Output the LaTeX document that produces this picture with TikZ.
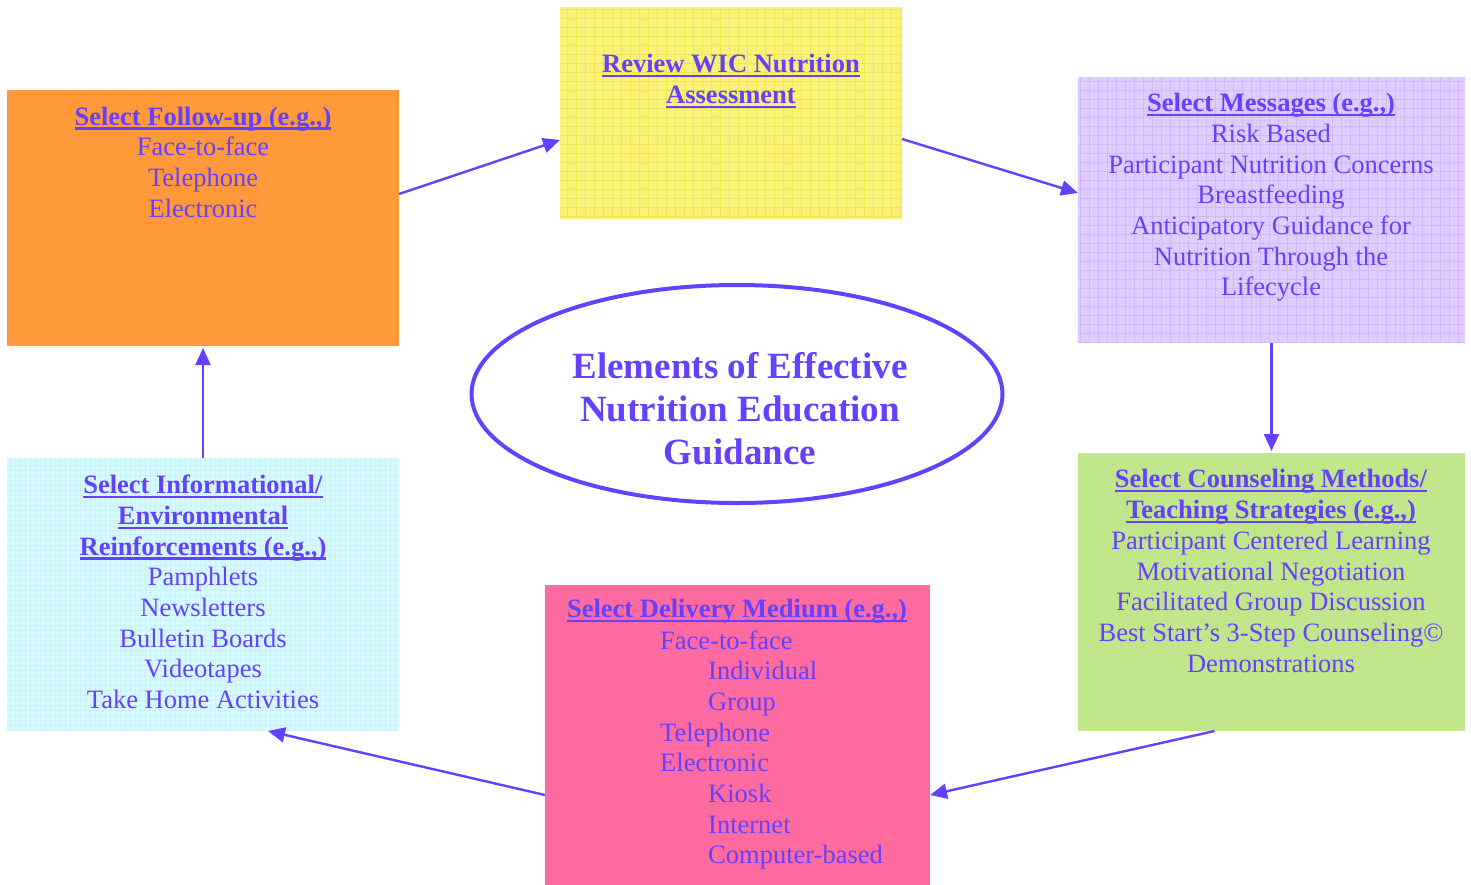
\documentclass[tikz,border=0pt]{standalone}
\usepackage{fontspec}
\setmainfont{Liberation Serif}
\usetikzlibrary{shapes.geometric,arrows.meta}
\definecolor{tc}{RGB}{100,64,255}
\definecolor{orangeC}{RGB}{255,153,58}
\definecolor{yellowC}{RGB}{248,242,120}
\definecolor{yellowG}{RGB}{240,230,85}
\definecolor{purpleC}{RGB}{224,204,255}
\definecolor{purpleG}{RGB}{210,185,252}
\definecolor{greenC}{RGB}{192,230,140}
\definecolor{pinkC}{RGB}{255,106,160}
\definecolor{cyanC}{RGB}{214,250,254}
\definecolor{cyanG}{RGB}{200,242,252}
\newsavebox{\hdbox}
\newcommand{\hd}[1]{\sbox{\hdbox}{\textbf{#1}}\rlap{\rule[-4.5pt]{\wd\hdbox}{2.2pt}}\usebox{\hdbox}}
\begin{document}
\begin{tikzpicture}[x=1pt,y=-1pt,
  box/.style={rectangle, draw=none, inner sep=0pt, outer sep=0pt, anchor=north west},
  txt/.style={text=tc, inner sep=0pt, align=center, font=\fontsize{26.5}{30.7}\selectfont},
  conn/.style={draw=tc, line width=2.4pt, -{Triangle[length=17pt,width=15pt]}}]
\useasboundingbox (0,0) rectangle (1471,884);
% boxes
\node[box, fill=orangeC, minimum width=392pt, minimum height=256pt] (follow) at (7,90) {};
\node[box, fill=yellowC, minimum width=342pt, minimum height=212pt] (review) at (560,7) {};
\draw[yellowG, line width=0.6pt, step=9pt] (560,7) grid (902,219);
\node[box, fill=purpleC, minimum width=387pt, minimum height=266pt] (msg) at (1078,77) {};
\draw[purpleG, line width=0.6pt, step=9pt] (1078,77) grid (1465,343);
\node[box, fill=greenC, minimum width=387pt, minimum height=278pt] (couns) at (1078,453) {};
\node[box, fill=pinkC, minimum width=385pt, minimum height=300pt] (deliv) at (545,585) {};
\node[box, fill=cyanC, minimum width=392pt, minimum height=273pt] (info) at (7,458) {};
\draw[cyanG, line width=0.5pt, step=5pt] (7,458) grid (399,731);
% texts
\node[txt] (tfollow) at (203,162) {\hd{Select Follow-up (e.g.,)}\\Face-to-face\\Telephone\\Electronic};
\node[txt] (treview) at (731,81) {\hd{Review WIC Nutrition}\\\hd{Assessment}};
\node[txt] (tmsg) at (1271,197.5) {\hd{Select Messages (e.g.,)}\\Risk Based\\Participant Nutrition Concerns\\Breastfeeding\\Anticipatory Guidance for\\Nutrition Through the\\Lifecycle};
\node[txt] (tcouns) at (1271,571) {\hd{Select Counseling Methods/}\\\hd{Teaching Strategies (e.g.,)}\\Participant Centered Learning\\Motivational Negotiation\\Facilitated Group Discussion\\Best Start’s 3-Step Counseling©\\Demonstrations};
\node[txt] (tinfo) at (203,592) {\hd{Select Informational/}\\\hd{Environmental}\\\hd{Reinforcements (e.g.,)}\\Pamphlets\\Newsletters\\Bulletin Boards\\Videotapes\\Take Home Activities};
\node[txt] (tdelivh) at (737,611) {\hd{Select Delivery Medium (e.g.,)}};
\node[txt, align=left, anchor=west] (tdeliv) at (660,750) {Face-to-face\\\hspace*{48pt}Individual\\\hspace*{48pt}Group\\Telephone\\Electronic\\\hspace*{48pt}Kiosk\\\hspace*{48pt}Internet\\\hspace*{48pt}Computer-based};
% ellipse
\node[ellipse, draw=tc, line width=4pt, minimum width=531pt, minimum height=218pt, inner sep=0pt] (center) at (737,394) {};
\node[text=tc, align=center, inner sep=0pt, font=\fontsize{37}{43}\selectfont\bfseries] (tcenter) at (740,409) {Elements of Effective\\Nutrition Education\\Guidance};
% connectors
\draw[conn] ([yshift=24pt]follow.east) -- ([yshift=-27pt]review.west);
\draw[conn] ([yshift=-26pt]review.east) -- ([yshift=17pt]msg.west);
\draw[conn] (msg.south) -- ([yshift=2pt]couns.north);
\draw[conn] ([xshift=-57pt]couns.south) -- ([yshift=-60pt]deliv.east);
\draw[conn] ([yshift=-60pt]deliv.west) -- ([xshift=65pt]info.south);
\draw[conn] (info.north) -- ([yshift=-2pt]follow.south);
\end{tikzpicture}
\end{document}
